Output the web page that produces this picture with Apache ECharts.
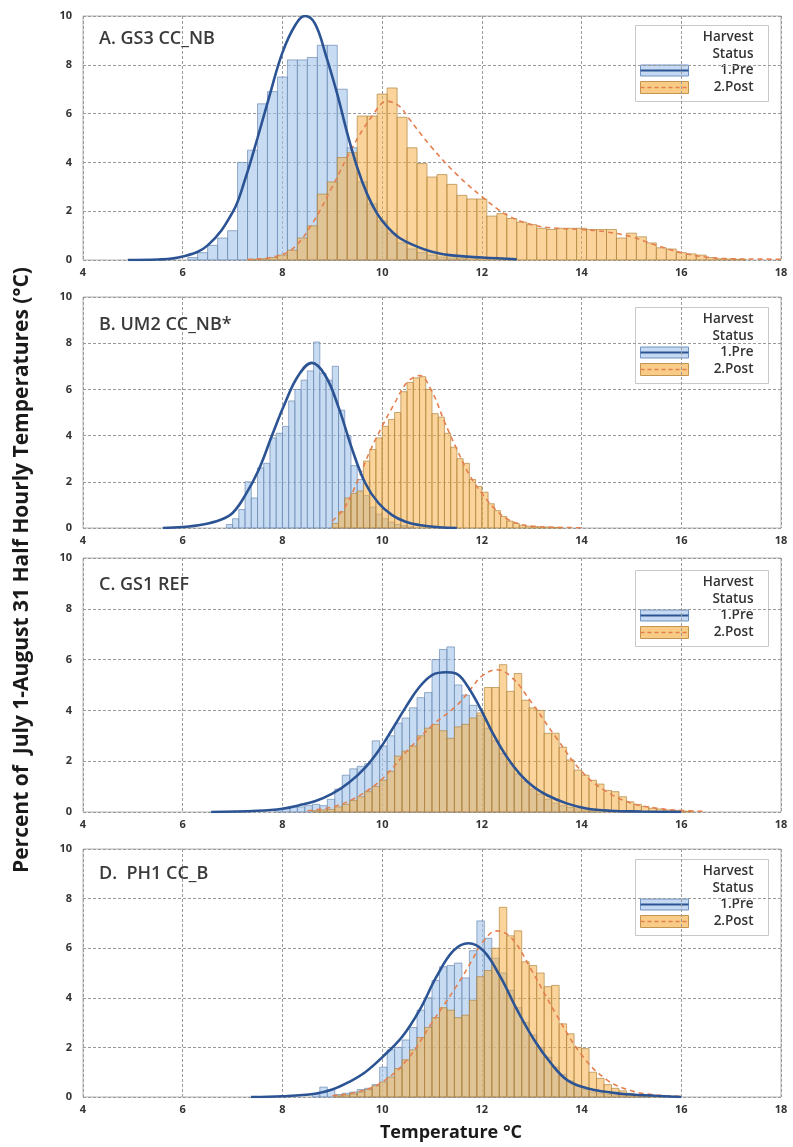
<!DOCTYPE html>
<html><head><meta charset="utf-8">
<script src="https://cdn.jsdelivr.net/npm/echarts@6/dist/echarts.min.js"></script>
<style>html,body{margin:0;padding:0;background:#fff}#c{width:793px;height:1147px}</style>
</head><body><div id="c"></div>
<script>
// ---------- data ----------
const xTicks = [4, 6, 8, 10, 12, 14, 16, 18];
const yTicks = [0, 2, 4, 6, 8, 10];
const panelTitles = ['A. GS3 CC_NB', 'B. UM2 CC_NB*', 'C. GS1 REF', 'D.  PH1 CC_B'];
const legendTitle = ['Harvest', 'Status'];
const seriesNames = ['1.Pre', '2.Post'];

// Panel A
const binA = 0.2;
const preStartA = 6.1;
const preA = [0.1,0.3,0.6,0.9,1.2,4.0,4.5,6.4,6.9,7.5,8.2,8.2,8.3,8.8,8.8,7.0,4.6,3.2,2.3,1.6,1.1,0.7,0.45,0.3,0.2,0.12,0.08,0.05];
const postStartA = 7.3;
const postA = [0.03,0.05,0.1,0.2,0.4,0.9,1.4,2.7,3.2,4.2,4.4,5.9,5.9,6.8,7.05,5.85,4.6,3.95,3.4,3.5,3.1,2.65,2.5,2.5,1.8,1.9,1.7,1.55,1.45,1.3,1.25,1.3,1.3,1.3,1.25,1.25,1.25,0.9,1.1,0.95,0.7,0.5,0.45,0.3,0.25,0.2,0.1,0.05,0.04,0.03];
const preCurveA = [[4.9,0],[5.5,0.02],[6.0,0.14],[6.5,0.6],[7.0,1.95],[7.25,3.3],[7.5,5.0],[7.75,6.8],[8.0,8.5],[8.25,9.6],[8.45,10.0],[8.65,9.7],[8.87,8.4],[9.1,6.8],[9.3,5.2],[9.5,3.8],[9.7,2.7],[9.9,1.9],[10.1,1.37],[10.35,0.9],[10.7,0.55],[11.0,0.34],[11.35,0.2],[12.0,0.1],[12.7,0.03]];
const postCurveA = [[7.3,0.02],[7.8,0.12],[8.2,0.45],[8.6,1.5],[9.0,3.0],[9.4,4.6],[9.8,5.9],[10.1,6.5],[10.35,6.3],[10.5,5.9],[11.0,4.6],[11.5,3.5],[12.0,2.6],[12.5,1.85],[13.0,1.45],[13.5,1.3],[14.0,1.25],[14.5,1.15],[15.0,0.95],[15.5,0.6],[16.0,0.3],[16.5,0.12],[17.0,0.05],[17.5,0.04],[18.0,0.03]];

// Panel B
const binB = 0.125;
const preStartB = 6.875;
const preB = [0.15,0.4,0.8,2.0,1.3,2.6,2.8,3.9,4.1,4.4,5.5,6.0,6.4,6.8,8.05,6.7,6.4,7.0,5.1,4.0,2.7,2.1,1.4,0.9,0.6,0.4,0.25,0.15,0.1,0.05];
const postStartB = 9.0;
const postB = [0.2,0.7,1.3,1.5,1.6,2.9,3.4,3.9,4.4,4.7,5.0,5.9,6.3,6.5,6.55,6.0,4.95,4.8,4.1,3.5,3.0,2.8,2.1,1.8,1.55,1.05,0.75,0.5,0.3,0.2,0.12,0.08,0.06,0.05,0.04,0.03,0.02];
const preCurveB = [[5.6,0],[6.0,0.04],[6.4,0.15],[6.75,0.35],[7.0,0.65],[7.25,1.4],[7.52,2.5],[7.79,4.0],[8.05,5.4],[8.32,6.6],[8.59,7.15],[8.86,6.6],[9.13,5.2],[9.4,3.4],[9.66,1.95],[9.93,1.07],[10.2,0.56],[10.47,0.27],[10.74,0.13],[11.14,0.03],[11.5,0]];
const postCurveB = [[9.0,0.3],[9.25,0.9],[9.5,2.0],[9.75,3.3],[10.0,4.4],[10.25,5.4],[10.5,6.3],[10.75,6.6],[11.0,5.9],[11.25,4.6],[11.5,3.4],[11.75,2.3],[12.0,1.5],[12.25,0.85],[12.5,0.4],[12.75,0.18],[13.0,0.08],[13.5,0.03],[14.0,0.01]];

// Panel C
const binC = 0.15;
const preStartC = 7.85;
const preC = [0.1,0.15,0.2,0.2,0.25,0.3,0.25,0.5,0.9,1.45,1.7,1.8,1.9,2.8,2.6,3.0,3.5,3.7,4.1,4.5,4.7,6.0,6.4,6.5,5.0,4.6,4.2,3.8,3.3,2.8,2.3,1.9,1.5,1.2,0.9,0.7,0.5,0.35,0.25,0.18,0.12,0.08,0.05];
const postStartC = 8.6;
const postC = [0.05,0.08,0.1,0.2,0.3,0.45,0.6,0.8,1.0,1.25,1.6,2.2,2.4,2.6,3.0,3.3,3.45,3.2,2.9,3.35,3.45,3.7,3.9,4.9,4.9,5.8,4.75,5.45,4.4,4.1,4.0,3.1,3.1,2.55,2.05,1.65,1.45,1.25,1.1,0.85,0.8,0.6,0.4,0.3,0.22,0.15,0.12,0.08,0.06,0.04,0.03];
const preCurveC = [[6.57,0],[7.5,0.05],[8.0,0.13],[8.32,0.26],[8.65,0.42],[9.0,0.72],[9.33,1.15],[9.66,1.75],[9.94,2.45],[10.2,3.25],[10.48,4.15],[10.74,4.9],[11.01,5.4],[11.28,5.5],[11.48,5.45],[11.68,5.05],[11.95,4.15],[12.22,3.1],[12.49,2.2],[12.76,1.5],[13.03,1.0],[13.3,0.67],[13.7,0.34],[14.1,0.14],[14.57,0.05],[15.2,0.02],[16.0,0]];
const postCurveC = [[8.5,0.05],[9.0,0.2],[9.5,0.6],[10.0,1.3],[10.5,2.4],[11.0,3.4],[11.5,4.2],[11.8,4.9],[12.0,5.35],[12.3,5.6],[12.6,5.3],[13.0,4.3],[13.5,2.9],[14.0,1.6],[14.5,0.8],[15.0,0.35],[15.5,0.15],[16.0,0.06],[16.5,0.02]];

// Panel D
const binD = 0.15;
const preStartD = 8.6;
const preD = [0.1,0.4,0.3,0.1,0.15,0.2,0.3,0.35,0.5,1.2,1.9,2.0,2.3,2.8,3.5,4.0,4.7,5.25,5.3,5.4,4.8,5.9,7.1,6.4,5.6,5.0,4.3,3.6,3.0,2.5,2.0,1.6,1.2,0.9,0.65,0.45,0.3,0.2,0.15,0.1,0.08,0.06,0.05,0.04,0.03];
const postStartD = 9.05;
const postD = [0.05,0.08,0.12,0.2,0.3,0.45,0.6,0.8,1.15,1.5,1.9,2.4,2.8,3.2,3.6,3.5,3.2,3.3,3.9,4.85,5.1,6.0,7.65,6.5,6.7,5.45,5.3,5.0,4.45,4.5,2.95,2.55,2.0,1.95,1.0,0.75,0.5,0.35,0.25,0.15,0.1,0.06,0.04,0.03];
const preCurveD = [[7.37,0],[8.0,0.03],[8.65,0.13],[9.0,0.3],[9.33,0.6],[9.66,1.0],[10.0,1.6],[10.41,2.45],[10.75,3.5],[11.09,4.85],[11.43,5.9],[11.73,6.2],[12.03,5.9],[12.37,4.85],[12.71,3.5],[13.05,2.3],[13.39,1.35],[13.72,0.67],[14.13,0.34],[14.8,0.13],[15.48,0.05],[16.0,0]];
const postCurveD = [[9.0,0.05],[9.5,0.2],[10.0,0.6],[10.5,1.5],[11.0,3.0],[11.5,4.5],[11.8,5.5],[12.0,6.2],[12.3,6.7],[12.6,6.4],[13.0,5.1],[13.5,3.3],[14.0,1.7],[14.5,0.7],[15.0,0.25],[15.5,0.08],[16.0,0.03]];

// ---------- layout / style ----------
const panels = [
  {bin: binA, preStart: preStartA, pre: preA, postStart: postStartA, post: postA, preCurve: preCurveA, postCurve: postCurveA, top: 16, height: 244},
  {bin: binB, preStart: preStartB, pre: preB, postStart: postStartB, post: postB, preCurve: preCurveB, postCurve: postCurveB, top: 297, height: 231},
  {bin: binC, preStart: preStartC, pre: preC, postStart: postStartC, post: postC, preCurve: preCurveC, postCurve: postCurveC, top: 558, height: 254},
  {bin: binD, preStart: preStartD, pre: preD, postStart: postStartD, post: postD, preCurve: preCurveD, postCurve: postCurveD, top: 849, height: 248}
];
const LEFT = 83, WIDTH = 698;
const PRE_FILL = 'rgba(165,198,236,0.62)', PRE_STROKE = 'rgba(105,135,175,0.85)';
const POST_FILL = 'rgba(246,176,72,0.55)', POST_STROKE = 'rgba(175,130,60,0.85)';
const PRE_LINE = '#2c5494', POST_LINE = '#e57f4e';
const FONT = 'Open Sans';

function binData(start, w, vals) { return vals.map((v, i) => [start + i * w, v]); }
function barRender(w, fill, stroke) {
  return function (params, api) {
    const x0 = api.value(0), h = api.value(1);
    const p0 = api.coord([x0, h]);
    const p1 = api.coord([x0 + w, 0]);
    return {type: 'rect', shape: {x: p0[0], y: p0[1], width: p1[0] - p0[0], height: p1[1] - p0[1]},
      style: {fill: fill, stroke: stroke, lineWidth: 0.8}};
  };
}

const grid = [], xAxis = [], yAxis = [], series = [], title = [], graphic = [];
panels.forEach((p, i) => {
  grid.push({left: LEFT, width: WIDTH, top: p.top, height: p.height, show: true, borderColor: '#b4b4b4', borderWidth: 1, backgroundColor: '#fff'});
  const split = {show: true, lineStyle: {color: '#9a9a9a', type: [3, 2], width: 1}};
  xAxis.push({gridIndex: i, type: 'value', min: xTicks[0], max: xTicks[xTicks.length - 1], interval: 2,
    axisLine: {show: false}, axisTick: {show: false}, splitLine: split,
    axisLabel: {color: '#333', fontSize: 11, margin: 7, fontFamily: FONT, fontWeight: 'bold'}});
  yAxis.push({gridIndex: i, type: 'value', min: yTicks[0], max: yTicks[yTicks.length - 1], interval: 2,
    axisLine: {show: false}, axisTick: {show: false}, splitLine: split,
    axisLabel: {color: '#333', fontSize: 11, margin: 11, fontFamily: FONT, fontWeight: 'bold'}});
  series.push({name: seriesNames[0], type: 'custom', xAxisIndex: i, yAxisIndex: i, encode: {x: 0, y: 1},
    renderItem: barRender(p.bin, PRE_FILL, PRE_STROKE), data: binData(p.preStart, p.bin, p.pre), z: 2});
  series.push({name: seriesNames[1], type: 'custom', xAxisIndex: i, yAxisIndex: i, encode: {x: 0, y: 1},
    renderItem: barRender(p.bin, POST_FILL, POST_STROKE), data: binData(p.postStart, p.bin, p.post), z: 3});
  series.push({name: seriesNames[1] + ' fit', type: 'line', xAxisIndex: i, yAxisIndex: i, data: p.postCurve, smooth: 0.4,
    showSymbol: false, lineStyle: {color: POST_LINE, width: 1.6, type: [5, 4]}, z: 4});
  series.push({name: seriesNames[0] + ' fit', type: 'line', xAxisIndex: i, yAxisIndex: i, data: p.preCurve, smooth: 0.4,
    showSymbol: false, lineStyle: {color: PRE_LINE, width: 2.6}, z: 5});
  title.push({text: panelTitles[i], left: 99, top: p.top + [26, 31, 30, 28][i] - 12, padding: 0,
    textStyle: {fontSize: 18, fontWeight: 600, color: '#3a3a3a', fontFamily: FONT}});
  // legend box (static decoration)
  const bt = p.top + [9, 10, 12, 10][i];
  const txt = (t, y) => ({type: 'text', x: 118, y: y, style: {text: t, align: 'right', verticalAlign: 'middle', fontSize: 13.5, fontFamily: FONT, fontWeight: 600, fill: '#333'}});
  graphic.push({type: 'group', left: 635, top: bt, z: 10, children: [
    {type: 'rect', shape: {x: 0, y: 0, width: 133, height: 76}, style: {fill: '#fff', stroke: '#c8c8c8', lineWidth: 1}},
    txt(legendTitle[0], 12),
    txt(legendTitle[1], 28.5),
    {type: 'rect', shape: {x: 5, y: 39.5, width: 48, height: 11}, style: {fill: '#c5daf2', stroke: '#6f93c4', lineWidth: 1}},
    {type: 'line', shape: {x1: 5, y1: 45, x2: 53, y2: 45}, style: {stroke: PRE_LINE, lineWidth: 2.2}},
    txt(seriesNames[0], 45),
    {type: 'rect', shape: {x: 5, y: 56, width: 48, height: 12}, style: {fill: '#f8cc86', stroke: '#c49450', lineWidth: 1}},
    {type: 'line', shape: {x1: 5, y1: 62, x2: 53, y2: 62}, style: {stroke: POST_LINE, lineWidth: 1.4, lineDash: [4, 3]}},
    txt(seriesNames[1], 61.5)
  ]});
});
graphic.push({type: 'text', x: 22, y: 570, rotation: Math.PI / 2, z: 10,
  style: {text: 'Percent of  July 1-August 31 Half Hourly Temperatures (°C)', align: 'center', verticalAlign: 'middle',
    fontSize: 21, fontWeight: 'bold', fontFamily: FONT, fill: '#1a1a1a'}});
graphic.push({type: 'text', x: 451, y: 1133, z: 10,
  style: {text: 'Temperature °C', align: 'center', verticalAlign: 'middle', fontSize: 18, fontWeight: 'bold', fontFamily: FONT, fill: '#1a1a1a'}});

const chart = echarts.init(document.getElementById('c'), null, {renderer: 'canvas'});
chart.setOption({animation: false, backgroundColor: '#fff', grid, xAxis, yAxis, series, title, graphic});
</script></body></html>
